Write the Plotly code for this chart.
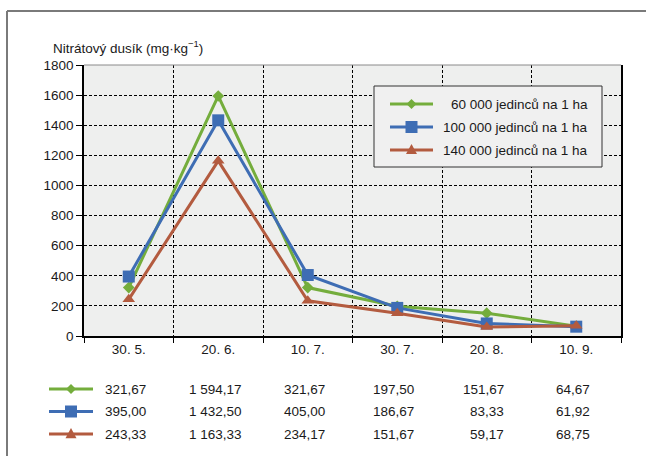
import plotly.graph_objects as go

# Sampling dates and nitrate nitrogen content (mg/kg) per plant density
dates = ["30. 5.", "20. 6.", "10. 7.", "30. 7.", "20. 8.", "10. 9."]
density_60k = [321.67, 1594.17, 321.67, 197.50, 151.67, 64.67]
density_100k = [395.00, 1432.50, 405.00, 186.67, 83.33, 61.92]
density_140k = [243.33, 1163.33, 234.17, 151.67, 59.17, 68.75]
series_names = ["60 000 jedinců na 1 ha", "100 000 jedinců na 1 ha", "140 000 jedinců na 1 ha"]
y_ticks = [0, 200, 400, 600, 800, 1000, 1200, 1400, 1600, 1800]

W, H = 646, 456
L, R, T, B = 84, 25, 65, 120
PW, PH = W - L - R, H - T - B

FONT = "Liberation Sans, Arial, sans-serif"
FS = 13.5
TXT = "#1a1a1a"
colors = ["#74ad3c", "#3e6db4", "#b35b3f"]
symbols = ["diamond", "square", "triangle-up"]
sizes = [9, 12, 11]
series = [density_60k, density_100k, density_140k]


def px(x):
    return (x - L) / PW


def py(y):
    return (H - B - y) / PH


fig = go.Figure()
for name, vals, col, sym, sz in zip(series_names, series, colors, symbols, sizes):
    fig.add_trace(go.Scatter(
        x=dates, y=vals, name=name, mode="lines+markers",
        line=dict(color=col, width=3),
        marker=dict(symbol=sym, size=sz, color=col),
        showlegend=False,
    ))

shapes = []
annotations = []

# outer frame (top and left edges)
shapes.append(dict(type="line", xref="paper", yref="paper", x0=px(7), x1=px(W + 5),
                   y0=py(11), y1=py(11), line=dict(color="#7a7a7a", width=2)))
shapes.append(dict(type="line", xref="paper", yref="paper", x0=px(7), x1=px(7),
                   y0=py(11), y1=py(H + 5), line=dict(color="#7a7a7a", width=2)))
# plot area top edge
shapes.append(dict(type="line", xref="paper", yref="paper", x0=0, x1=1, y0=1, y1=1,
                   line=dict(color="#8a8a8a", width=1)))


def marker_path(sym, cx, cy, s):
    if sym == "diamond":
        pts = [(cx, cy - s), (cx + s, cy), (cx, cy + s), (cx - s, cy)]
    elif sym == "square":
        pts = [(cx - s, cy - s), (cx + s, cy - s), (cx + s, cy + s), (cx - s, cy + s)]
    else:
        pts = [(cx, cy - s * 1.1), (cx + s, cy + s * 0.75), (cx - s, cy + s * 0.75)]
    return "M" + " L".join(f"{px(a):.5f},{py(b):.5f}" for a, b in pts) + " Z"


def key(x0, x1, cy, col, sym):
    shapes.append(dict(type="line", xref="paper", yref="paper", x0=px(x0), x1=px(x1),
                       y0=py(cy), y1=py(cy), line=dict(color=col, width=3)))
    s = {"diamond": 5, "square": 6, "triangle-up": 5.5}[sym]
    shapes.append(dict(type="path", xref="paper", yref="paper",
                       path=marker_path(sym, (x0 + x1) / 2, cy, s),
                       fillcolor=col, line=dict(color=col, width=0)))


# legend box
shapes.append(dict(type="rect", xref="paper", yref="paper", x0=px(374), x1=px(602),
                   y0=py(86), y1=py(167), fillcolor="#f0f0f0",
                   line=dict(color="#333333", width=1)))
for i, (name, col, sym) in enumerate(zip(series_names, colors, symbols)):
    cy = 104 + i * 23
    key(390, 433, cy, col, sym)
    annotations.append(dict(xref="paper", yref="paper", x=px(590), y=py(cy),
                            xanchor="right", yanchor="middle", text=name, showarrow=False,
                            font=dict(family=FONT, size=FS, color=TXT)))


# value table below the axis
def fmt(v):
    return f"{v:,.2f}".replace(",", " ").replace(".", ",")


for i, (vals, col, sym) in enumerate(zip(series, colors, symbols)):
    cy = 389 + i * 22.5
    key(49, 93, cy, col, sym)
    for j, (d, v) in enumerate(zip(dates, vals)):
        widest = max(len(fmt(s[j])) for s in series)
        annotations.append(dict(xref="x", yref="paper", x=d, y=py(cy),
                                xanchor="right", yanchor="middle", xshift=3.2 * widest,
                                text=fmt(v), showarrow=False,
                                font=dict(family=FONT, size=FS, color=TXT)))

# axis title
annotations.append(dict(xref="paper", yref="paper", x=px(51), y=py(47),
                        xanchor="left", yanchor="middle", showarrow=False,
                        text="Nitrátový dusík (mg·kg<sup>−1</sup>)",
                        font=dict(family=FONT, size=FS, color=TXT)))

fig.update_layout(
    width=W, height=H,
    margin=dict(l=L, r=R, t=T, b=B),
    paper_bgcolor="white", plot_bgcolor="#eeefee",
    font=dict(family=FONT, size=FS, color=TXT),
    shapes=shapes, annotations=annotations,
    xaxis=dict(
        type="category", range=[-0.5, len(dates) - 0.5],
        tickson="boundaries", ticks="outside", ticklen=5,
        tickcolor="black", showline=True, linecolor="black", linewidth=1.5,
        showgrid=True, gridcolor="black", gridwidth=1, griddash="3px,2px",
        tickfont=dict(family=FONT, size=FS), fixedrange=True,
    ),
    yaxis=dict(
        range=[0, 1800], tickvals=y_ticks, ticks="outside", ticklen=6,
        tickcolor="black", showline=True, linecolor="black", linewidth=1.5, mirror=True,
        showgrid=True, gridcolor="black", gridwidth=1, griddash="3px,2px",
        zeroline=False, tickfont=dict(family=FONT, size=FS), fixedrange=True,
    ),
)

fig.write_html("out.html")
